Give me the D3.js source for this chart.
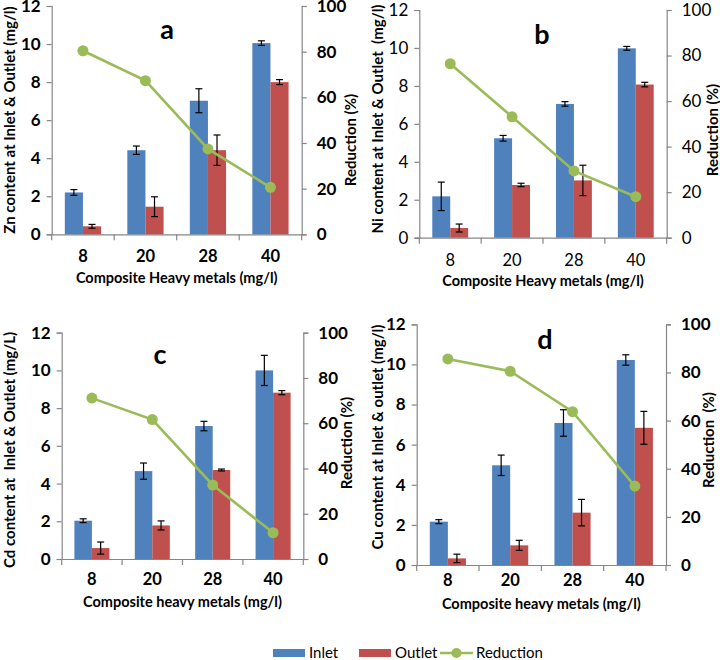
<!DOCTYPE html>
<html><head><meta charset="utf-8">
<script src="https://cdn.jsdelivr.net/npm/d3@7"></script>
<style>
body{margin:0;background:#fff;}
svg{display:block;font-family:Lato,"Open Sans",sans-serif;}
text{white-space:pre;}
</style></head>
<body><svg id="chart" width="720" height="660"></svg>
<script>
const categories = ["8","20","28","40"];
const leftTicks = [0,2,4,6,8,10,12];
const rightTicks = [0,20,40,60,80,100];
const seriesNames = ["Inlet","Outlet","Reduction"];

const znInlet = [2.2, 4.42, 7.02, 10.05];
const znInletErr = [0.15, 0.22, 0.63, 0.12];
const znOutlet = [0.42, 1.45, 4.42, 8.0];
const znOutletErr = [0.1, 0.52, 0.8, 0.13];
const znReduction = [80.4, 67.3, 37.4, 20.6];

const niInlet = [2.18, 5.24, 7.05, 9.98];
const niInletErr = [0.75, 0.15, 0.12, 0.1];
const niOutlet = [0.51, 2.78, 3.02, 8.07];
const niOutletErr = [0.21, 0.09, 0.8, 0.12];
const niReduction = [76.4, 53.1, 29.3, 18.0];

const cdInlet = [2.03, 4.66, 7.05, 10.0];
const cdInletErr = [0.1, 0.43, 0.25, 0.8];
const cdOutlet = [0.58, 1.78, 4.72, 8.82];
const cdOutletErr = [0.32, 0.24, 0.05, 0.11];
const cdReduction = [71.1, 61.6, 32.7, 11.6];

const cuInlet = [2.16, 4.97, 7.08, 10.22];
const cuInletErr = [0.1, 0.51, 0.66, 0.26];
const cuOutlet = [0.33, 0.98, 2.61, 6.84];
const cuOutletErr = [0.21, 0.25, 0.66, 0.82];
const cuReduction = [85.6, 80.5, 63.7, 32.8];

const colors = {inlet:"#4F81BD", outlet:"#C0504D", red:"#9BBB59", axis:"#868686"};

const panels = [
  {letter:"a", inlet:znInlet, inErr:znInletErr, outlet:znOutlet, outErr:znOutletErr, red:znReduction,
   ylab:"Zn content at Inlet & Outlet (mg/l)", xlab:"Composite Heavy metals (mg/l)", rlab:"Reduction (%)",
   L:51.7, R:301.7, T:6, B:234.3, tickBold:true,
   letterPos:[167,28], ylabX:9, ylabY:120, rlabX:350, rlabY:140, xtickY:256, xlabY:277},
  {letter:"b", inlet:niInlet, inErr:niInletErr, outlet:niOutlet, outErr:niOutletErr, red:niReduction,
   ylab:"Ni content at Inlet & Outlet  (mg/l)", xlab:"Composite Heavy metals (mg/l)", rlab:"Reduction (%)",
   L:419.3, R:666.7, T:10, B:237.7, tickBold:false,
   letterPos:[542,33], ylabX:377, ylabY:119, rlabX:712, rlabY:130, xtickY:260, xlabY:280},
  {letter:"c", inlet:cdInlet, inErr:cdInletErr, outlet:cdOutlet, outErr:cdOutletErr, red:cdReduction,
   ylab:"Cd content at  Inlet & Outlet (mg/L)", xlab:"Composite heavy metals (mg/l)", rlab:"Reduction (%)",
   L:61.7, R:303.3, T:332.7, B:559, tickBold:true,
   letterPos:[160,353], ylabX:9, ylabY:450, rlabX:346, rlabY:443, xtickY:579, xlabY:601},
  {letter:"d", inlet:cuInlet, inErr:cuInletErr, outlet:cuOutlet, outErr:cuOutletErr, red:cuReduction,
   ylab:"Cu content at Inlet & outlet (mg/l)", xlab:"Composite heavy metals (mg/l)", rlab:"Reduction  (%)",
   L:416.7, R:666, T:324.3, B:565, tickBold:true,
   letterPos:[545,338], ylabX:377, ylabY:437, rlabX:708, rlabY:440, xtickY:580, xlabY:603}
];

const svg = d3.select("#chart");

panels.forEach(p => {
  const g = svg.append("g");
  const x = d3.scaleBand().domain(categories).range([p.L, p.R]).padding(0);
  const y = d3.scaleLinear().domain([0,12]).range([p.B, p.T]);
  const y2 = d3.scaleLinear().domain([0,100]).range([p.B, p.T]);
  const bw = x.bandwidth()*0.29;
  const cx = c => x(c) + x.bandwidth()/2;
  const tw = p.tickBold ? 700 : 400;

  const la = g.append("g").attr("transform",`translate(${p.L},0)`)
    .call(d3.axisLeft(y).tickValues(leftTicks).tickSize(5).tickPadding(6).tickFormat(d3.format("d")));
  const ra = g.append("g").attr("transform",`translate(${p.R},0)`)
    .call(d3.axisRight(y2).tickValues(rightTicks).tickSize(5).tickPadding(10).tickFormat(d3.format("d")));
  const xa = g.append("g").attr("transform",`translate(0,${p.B})`)
    .call(d3.axisBottom(x).tickSize(0).tickPadding(0));
  [la,ra,xa].forEach(a => {
    a.select(".domain").attr("stroke",colors.axis).attr("stroke-width",1.2);
    a.selectAll(".tick line").attr("stroke",colors.axis).attr("stroke-width",1.2);
    a.selectAll("text").attr("fill","#000").style("font-size","17px").style("font-weight",tw).style("font-family","Lato, sans-serif");
  });
  xa.selectAll(".tick text").attr("y", p.xtickY - p.B).attr("dy","0.35em").style("font-size","16.5px");
  const bounds = categories.map(c => x(c)).concat([p.R]);
  g.append("g").selectAll("line").data(bounds).join("line")
    .attr("x1",d=>d).attr("x2",d=>d).attr("y1",p.B).attr("y2",p.B+6)
    .attr("stroke",colors.axis).attr("stroke-width",1.2);

  const bars = g.append("g");
  bars.selectAll("rect.in").data(categories).join("rect").attr("class","in")
    .attr("x",c=>cx(c)-bw).attr("width",bw)
    .attr("y",(c,i)=>y(p.inlet[i])).attr("height",(c,i)=>y(0)-y(p.inlet[i]))
    .attr("fill",colors.inlet);
  bars.selectAll("rect.out").data(categories).join("rect").attr("class","out")
    .attr("x",c=>cx(c)).attr("width",bw)
    .attr("y",(c,i)=>y(p.outlet[i])).attr("height",(c,i)=>y(0)-y(p.outlet[i]))
    .attr("fill",colors.outlet);

  const errs = [];
  categories.forEach((c,i)=>{
    errs.push({x:cx(c)-bw/2, v:p.inlet[i], e:p.inErr[i]});
    errs.push({x:cx(c)+bw/2, v:p.outlet[i], e:p.outErr[i]});
  });
  const eg = g.append("g").attr("stroke","#000").attr("stroke-width",1.2);
  errs.forEach(d=>{
    eg.append("line").attr("x1",d.x).attr("x2",d.x).attr("y1",y(d.v-d.e)).attr("y2",y(d.v+d.e));
    eg.append("line").attr("x1",d.x-3.5).attr("x2",d.x+3.5).attr("y1",y(d.v-d.e)).attr("y2",y(d.v-d.e));
    eg.append("line").attr("x1",d.x-3.5).attr("x2",d.x+3.5).attr("y1",y(d.v+d.e)).attr("y2",y(d.v+d.e));
  });

  const line = d3.line().x((d,i)=>cx(categories[i])).y(d=>y2(d));
  g.append("path").datum(p.red).attr("d",line).attr("fill","none")
    .attr("stroke",colors.red).attr("stroke-width",2.6);
  g.append("g").selectAll("circle").data(p.red).join("circle")
    .attr("cx",(d,i)=>cx(categories[i])).attr("cy",d=>y2(d)).attr("r",5.5)
    .attr("fill",colors.red);

  g.append("text").attr("x",p.letterPos[0]).attr("y",p.letterPos[1]).attr("text-anchor","middle")
    .attr("dominant-baseline","central").style("font-size","27px").style("font-weight",700).text(p.letter);
  g.append("text").attr("transform",`translate(${p.ylabX},${p.ylabY}) rotate(-90)`)
    .attr("text-anchor","middle").attr("dominant-baseline","central")
    .style("font-size","15px").style("font-weight",700).text(p.ylab);
  g.append("text").attr("transform",`translate(${p.rlabX},${p.rlabY}) rotate(-90)`)
    .attr("text-anchor","middle").attr("dominant-baseline","central")
    .style("font-size","15px").style("font-weight",700).text(p.rlab);
  g.append("text").attr("x",(p.L+p.R)/2).attr("y",p.xlabY).attr("text-anchor","middle")
    .attr("dominant-baseline","central").style("font-size","14.5px").style("font-weight",700).text(p.xlab);
});

const lg = svg.append("g");
const legendItems = [
  {name:seriesNames[0], type:"rect", color:colors.inlet, x:273},
  {name:seriesNames[1], type:"rect", color:colors.outlet, x:359},
  {name:seriesNames[2], type:"line", color:colors.red, x:440}
];
legendItems.forEach(it=>{
  if(it.type==="rect"){
    lg.append("rect").attr("x",it.x).attr("y",649).attr("width",32).attr("height",8).attr("fill",it.color);
  } else {
    lg.append("line").attr("x1",it.x).attr("x2",it.x+33).attr("y1",653).attr("y2",653)
      .attr("stroke",it.color).attr("stroke-width",2.6);
    lg.append("circle").attr("cx",it.x+16.5).attr("cy",653).attr("r",5).attr("fill",it.color);
  }
  lg.append("text").attr("x",it.x+36).attr("y",652).attr("dominant-baseline","central")
    .style("font-size","15px").text(it.name);
});
</script></body></html>
